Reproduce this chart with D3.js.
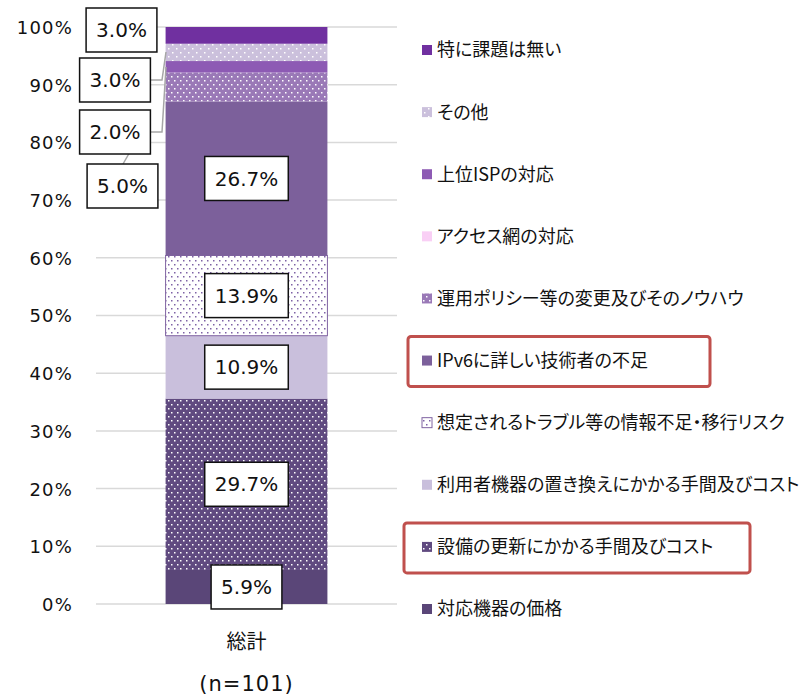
<!DOCTYPE html>
<html>
<head>
<meta charset="utf-8">
<script src="https://cdn.jsdelivr.net/npm/d3@7"></script>
<style>
  html, body { margin: 0; padding: 0; background: #fff; }
  svg { display: block; }
  .jp { font-family: "Noto Sans CJK JP", sans-serif; font-feature-settings: "palt"; }
  .num { font-family: "DejaVu Sans", Verdana, sans-serif; }
</style>
</head>
<body>
<svg id="chart" width="804" height="697"></svg>
<script>
// データ
const categories = [
  "対応機器の価格",
  "設備の更新にかかる手間及びコスト",
  "利用者機器の置き換えにかかる手間及びコスト",
  "想定されるトラブル等の情報不足・移行リスク",
  "IPv6に詳しい技術者の不足",
  "運用ポリシー等の変更及びそのノウハウ",
  "アクセス網の対応",
  "上位ISPの対応",
  "その他",
  "特に課題は無い"
];
const values = [5.9, 29.7, 10.9, 13.9, 26.7, 5.0, 0, 2.0, 3.0, 3.0];
const groupLabel = ["総計", "(n=101)"];
const yTicks = [0, 0.1, 0.2, 0.3, 0.4, 0.5, 0.6, 0.7, 0.8, 0.9, 1.0];
const highlighted = ["IPv6に詳しい技術者の不足", "設備の更新にかかる手間及びコスト"];

// 見た目
const fills = ["#5a4678", "url(#p1)", "#c9bfdc", "url(#p3)", "#7c609b", "url(#p5)", "#f9cff5", "#8d5ab4", "url(#p8)", "#7030a0"];

const svg = d3.select("#chart");
const defs = svg.append("defs");

function makePattern(id, bg, fg, w, h, dots, size) {
  const p = defs.append("pattern")
    .attr("id", id)
    .attr("patternUnits", "userSpaceOnUse")
    .attr("width", w).attr("height", h);
  p.append("rect").attr("width", w).attr("height", h).attr("fill", bg);
  dots.forEach(d => {
    p.append("rect").attr("x", d[0]).attr("y", d[1])
      .attr("width", size).attr("height", size).attr("fill", fg);
  });
}
makePattern("p1", "#604a80", "#ffffff", 6, 8, [[0, 0], [3, 4]], 1.5);
makePattern("p3", "#ffffff", "#7e62a6", 6, 8, [[0, 0], [3, 4]], 1.5);
makePattern("p5", "#9a79b7", "#ffffff", 6, 8, [[0, 0], [3, 4]], 1.5);
makePattern("p8", "#cbc0dc", "#ffffff", 8, 8, [[0, 0], [4, 4]], 1.5);

const y = d3.scaleLinear().domain([0, 1]).range([604, 27]);
const x = d3.scaleBand().domain([groupLabel[0]]).range([96, 397]).paddingInner(0).paddingOuter(0.43);

// グリッド線
svg.append("g").selectAll("line")
  .data(yTicks)
  .join("line")
  .attr("x1", 96).attr("x2", 397)
  .attr("y1", d => y(d)).attr("y2", d => y(d))
  .attr("stroke", "#d9d9d9").attr("stroke-width", 1.5);

// 目盛りラベル
const yAxis = d3.axisLeft(y).tickValues(yTicks).tickFormat(d3.format(".0%")).tickSize(0).tickPadding(0);
const yg = svg.append("g").attr("transform", "translate(73,0)").call(yAxis);
yg.select(".domain").remove();
yg.selectAll("text")
  .attr("class", "num")
  .attr("font-size", 18)
  .attr("letter-spacing", 1.2)
  .attr("fill", "#111")
  .attr("dy", "0.36em");

// 積み上げ
const stackData = [];
let acc = 0;
values.forEach((v, i) => {
  stackData.push({ name: categories[i], value: v, y0: acc / 100, y1: (acc + v) / 100, fill: fills[i] });
  acc += v;
});

svg.append("g").selectAll("rect")
  .data(stackData.filter(d => d.value > 0))
  .join("rect")
  .attr("x", x(groupLabel[0]))
  .attr("width", x.bandwidth())
  .attr("y", d => y(Math.min(d.y1, 1)))
  .attr("height", d => y(d.y0) - y(Math.min(d.y1, 1)))
  .attr("fill", d => d.fill)
  .attr("stroke", d => d.name === categories[3] ? "#8064a2" : "none")
  .attr("stroke-width", 1);

// データラベル
const cx = x(groupLabel[0]) + x.bandwidth() / 2;
// 外側ラベルの配置 (手動)
const outside = {
  "運用ポリシー等の変更及びそのノウハウ": { cx: 122.5, cy: 186, line: [[123, 164], [146, 124]] },
  "上位ISPの対応": { cx: 115, cy: 132, line: [[150, 132], [162, 132], [166, 67]] },
  "その他": { cx: 115, cy: 80, line: [[150, 80], [162, 80], [166, 52]] },
  "特に課題は無い": { cx: 121.5, cy: 30, line: null }
};

const lineG = svg.append("g");
const labelG = svg.append("g");

stackData.filter(d => d.value > 0).forEach(d => {
  const o = outside[d.name];
  const lx = o ? o.cx : cx;
  const ly = o ? o.cy : (y(d.y0) + y(d.y1)) / 2;
  if (o && o.line) {
    lineG.append("path")
      .attr("d", d3.line()(o.line))
      .attr("fill", "none")
      .attr("stroke", "#a6a6a6")
      .attr("stroke-width", 1.5);
  }
  const g = labelG.append("g");
  const rect = g.append("rect");
  const t = g.append("text")
    .attr("class", "num")
    .attr("x", lx).attr("y", ly)
    .attr("dy", "0.36em")
    .attr("text-anchor", "middle")
    .attr("font-size", 20)
    .attr("fill", "#111")
    .text(d.value.toFixed(1) + "%");
  const w = t.node().getComputedTextLength() + 20;
  rect.attr("x", lx - w / 2).attr("y", ly - 22)
    .attr("width", w).attr("height", 44)
    .attr("fill", "#fff").attr("stroke", "#111").attr("stroke-width", 1.5);
});

// 系列ラベル
svg.append("text").attr("class", "jp")
  .attr("x", cx).attr("y", 649)
  .attr("text-anchor", "middle").attr("font-size", 20).attr("fill", "#111")
  .text(groupLabel[0]);
svg.append("text").attr("class", "num")
  .attr("x", cx).attr("y", 691)
  .attr("text-anchor", "middle").attr("font-size", 21).attr("letter-spacing", 1).attr("fill", "#111")
  .text(groupLabel[1]);

// 凡例
const legendY = d3.scalePoint().domain(categories.slice().reverse()).range([50, 609]);
const lg = svg.append("g");
categories.forEach((c, i) => {
  const ly = legendY(c);
  lg.append("rect")
    .attr("x", 422).attr("y", ly - 5)
    .attr("width", 10).attr("height", 10)
    .attr("fill", fills[i])
    .attr("stroke", i === 3 ? "#8064a2" : "none");
  lg.append("text").attr("class", "jp")
    .attr("x", 437).attr("y", ly)
    .attr("dy", "0.36em")
    .attr("font-size", 18)
    .attr("fill", "#111")
    .text(c);
});

// 強調枠
const boxes = { "IPv6に詳しい技術者の不足": [408, 710], "設備の更新にかかる手間及びコスト": [404, 750] };
highlighted.forEach(c => {
  const ly = legendY(c);
  const b = boxes[c];
  lg.append("rect")
    .attr("x", b[0]).attr("y", ly - 24)
    .attr("width", b[1] - b[0]).attr("height", 50)
    .attr("rx", 3)
    .attr("fill", "none")
    .attr("stroke", "#c0504d")
    .attr("stroke-width", 3);
});
</script>
</body>
</html>
